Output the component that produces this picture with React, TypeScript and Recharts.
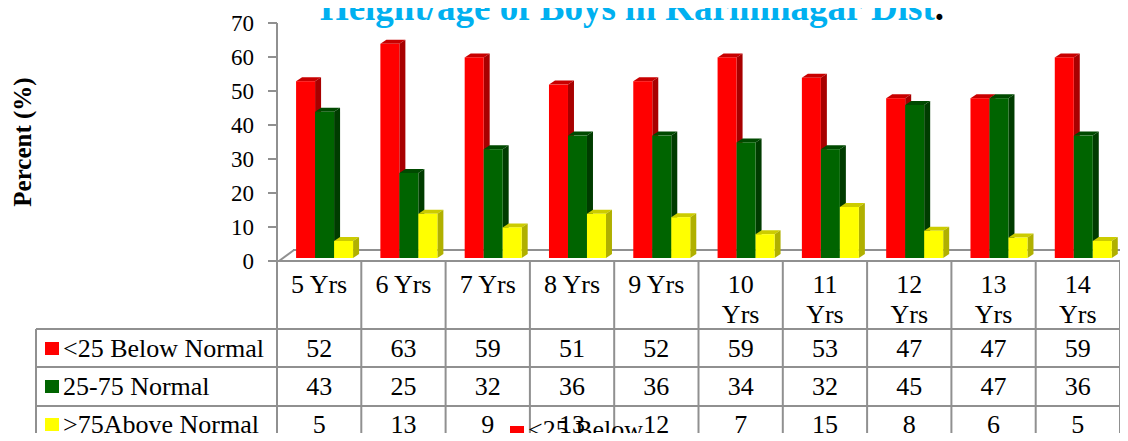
import { BarChart, Bar, XAxis, YAxis } from 'recharts';

const CATEGORIES = ['5 Yrs', '6 Yrs', '7 Yrs', '8 Yrs', '9 Yrs', '10 Yrs', '11 Yrs', '12 Yrs', '13 Yrs', '14 Yrs'];
const BELOW = [52, 63, 59, 51, 52, 59, 53, 47, 47, 59];
const NORMAL = [43, 25, 32, 36, 36, 34, 32, 45, 47, 36];
const ABOVE = [5, 13, 9, 13, 12, 7, 15, 8, 6, 5];
const SERIES_NAMES = ['<25 Below Normal', '25-75 Normal', '>75Above Normal'];
const Y_TICKS = [0, 10, 20, 30, 40, 50, 60, 70];
const TITLE = 'Height/age of Boys in Karimnagar Dist';
const Y_LABEL = 'Percent (%)';

const SERIES = [
  { key: 'below', name: SERIES_NAMES[0], values: BELOW, front: '#FF0000', side: '#A80000', top: '#C80000' },
  { key: 'normal', name: SERIES_NAMES[1], values: NORMAL, front: '#006400', side: '#003C00', top: '#004A00' },
  { key: 'above', name: SERIES_NAMES[2], values: ABOVE, front: '#FFFF00', side: '#B0B000', top: '#CCCC00' },
];

const data = CATEGORIES.map((cat, i) => ({ cat, below: BELOW[i], normal: NORMAL[i], above: ABOVE[i] }));

// layout
const W = 1128;
const H = 441;
const PLOT_L = 277;
const PLOT_R = 1120;
const PLOT_T = 23;
const PLOT_B = 261;
const LABEL_L = 36;
const ROW_LINES = [329, 367, 406];
const ROW_BASE = [357, 395, 433];
const FONT = "'Liberation Serif', 'Times New Roman', serif";
const GRID = '#909090';
const COL_W = (PLOT_R - PLOT_L) / CATEGORIES.length;

// front face lifted a little, like the 3D projection in the original
const make3D = (front: string, side: string, top: string) => (props: any) => {
  const { width, height } = props;
  if (!height || height <= 0) return <g />;
  const x = props.x + 5;
  const y = props.y - 3;
  const h = height;
  const dx = 6;
  const dy = 4;
  return (
    <g>
      <polygon points={`${x},${y} ${x + dx},${y - dy} ${x + width + dx},${y - dy} ${x + width},${y}`} fill={top} />
      <polygon points={`${x + width},${y} ${x + width + dx},${y - dy} ${x + width + dx},${y + h - dy} ${x + width},${y + h}`} fill={side} />
      <rect x={x} y={y} width={width} height={h} fill={front} />
    </g>
  );
};

function TableTick(props: any) {
  const { x, payload, index } = props;
  const label: string = payload.value;
  const lines = label.length > 5 ? label.split(' ') : [label];
  return (
    <g fontFamily={FONT} fontSize={26} fill="#000">
      {lines.map((l, k) => (
        <text key={k} x={x} y={293 + k * 30} textAnchor="middle">{l}</text>
      ))}
      {SERIES.map((s, r) => (
        <text key={s.key} x={x} y={ROW_BASE[r]} textAnchor="middle">{s.values[index]}</text>
      ))}
    </g>
  );
}

export default function App() {
  const stray = SERIES_NAMES[0].split(' ').slice(0, 2).join(' ') + '…';
  return (
    <div style={{ position: 'relative', width: W, height: H, margin: -8, overflow: 'hidden', background: '#fff' }}>
      {/* floor + table grid, behind the bars */}
      <svg width={W} height={H} style={{ position: 'absolute', left: 0, top: 0 }}>
        <g stroke={GRID} strokeWidth={2} fill="none">
          <line x1={PLOT_L + 16} y1={250} x2={W} y2={250} />
          <line x1={PLOT_L + 2} y1={PLOT_B} x2={PLOT_L + 17} y2={250} />
          <line x1={PLOT_R} y1={PLOT_B} x2={W} y2={254} />
          <line x1={PLOT_L} y1={PLOT_B} x2={PLOT_R} y2={PLOT_B} />
          {ROW_LINES.map(y => <line key={y} x1={LABEL_L} y1={y} x2={PLOT_R} y2={y} />)}
          <line x1={LABEL_L} y1={ROW_LINES[0]} x2={LABEL_L} y2={H} />
          {Array.from({ length: CATEGORIES.length + 1 }, (_, k) => (
            <line key={k} x1={PLOT_L + k * COL_W} y1={PLOT_B} x2={PLOT_L + k * COL_W} y2={H} />
          ))}
        </g>
      </svg>

      <div style={{ position: 'absolute', left: 0, top: 0 }}>
        <BarChart
          width={W}
          height={H}
          data={data}
          margin={{ top: PLOT_T, right: W - PLOT_R, bottom: 0, left: 0 }}
          barCategoryGap="16.7%"
          barGap={0}
        >
          <YAxis
            width={PLOT_L}
            domain={[0, 70]}
            ticks={Y_TICKS}
            interval={0}
            tickSize={9}
            tickMargin={14}
            axisLine={{ stroke: GRID, strokeWidth: 2 }}
            tickLine={{ stroke: GRID, strokeWidth: 2 }}
            tick={{ fontSize: 23, fill: '#000', fontFamily: FONT }}
          />
          <XAxis
            dataKey="cat"
            height={H - PLOT_B}
            interval={0}
            axisLine={false}
            tickLine={false}
            tick={<TableTick />}
          />
          {SERIES.map(s => (
            <Bar
              key={s.key}
              dataKey={s.key}
              name={s.name}
              fill={s.front}
              shape={make3D(s.front, s.side, s.top)}
              isAnimationActive={false}
            />
          ))}
        </BarChart>
      </div>

      {/* title, axis label, row labels, stray legend */}
      <svg width={W} height={H} style={{ position: 'absolute', left: 0, top: 0 }}>
        <text x={632} y={20} textAnchor="middle" fontFamily={FONT} fontSize={37} fontWeight="bold">
          <tspan fill="#00B0F0">{TITLE}</tspan>
          <tspan fill="#000">.</tspan>
        </text>
        <text
          x={31}
          y={142}
          transform="rotate(-90, 31, 142)"
          textAnchor="middle"
          fontFamily={FONT}
          fontSize={25}
          fontWeight="bold"
          fill="#000"
        >
          {Y_LABEL}
        </text>
        {SERIES.map((s, r) => (
          <g key={s.key}>
            <rect x={45} y={ROW_BASE[r] - 15} width={14} height={13} fill={s.front} />
            <text x={63} y={ROW_BASE[r]} fontFamily={FONT} fontSize={26} fill="#000">{s.name}</text>
          </g>
        ))}
        <rect x={510} y={426} width={14} height={13} fill={SERIES[0].front} />
        <text x={528} y={438} fontFamily={FONT} fontSize={26} fill="#000">{stray}</text>
      </svg>
    </div>
  );
}
